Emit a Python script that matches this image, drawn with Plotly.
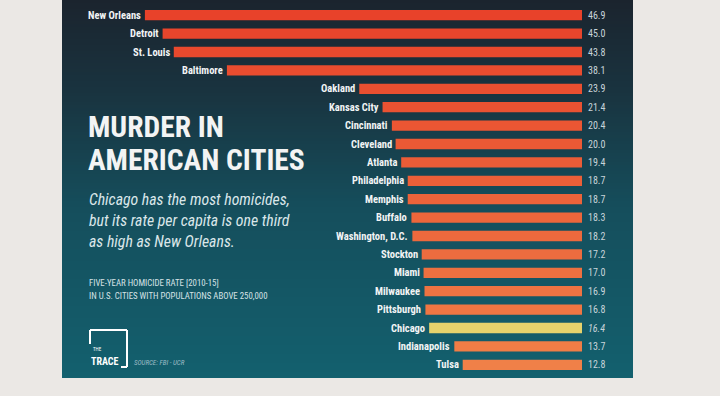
import plotly.graph_objects as go

cities = ["New Orleans", "Detroit", "St. Louis", "Baltimore", "Oakland", "Kansas City",
          "Cincinnati", "Cleveland", "Atlanta", "Philadelphia", "Memphis", "Buffalo",
          "Washington, D.C.", "Stockton", "Miami", "Milwaukee", "Pittsburgh", "Chicago",
          "Indianapolis", "Tulsa"]
rates = [46.9, 45.0, 43.8, 38.1, 23.9, 21.4, 20.4, 20.0, 19.4, 18.7, 18.7, 18.3,
         18.2, 17.2, 17.0, 16.9, 16.8, 16.4, 13.7, 12.8]
value_labels = ["46.9", "45.0", "43.8", "38.1", "23.9", "21.4", "20.4", "20.0", "19.4",
                "18.7", "18.7", "18.3", "18.2", "17.2", "17.0", "16.9", "16.8", "16.4",
                "13.7", "12.8"]
highlight = "Chicago"
subtitle_lines = ["Chicago has the most homicides,", "but its rate per capita is one third",
                  "as high as New Orleans."]
note_lines = ["FIVE-YEAR HOMICIDE RATE [2010-15]", "IN U.S. CITIES WITH POPULATIONS ABOVE 250,000"]

W, H = 720, 396
L, R, T, B = 116, 138, 6, 22
PW, PH = W - L - R, H - T - B


def px(x):
    return (x - L) / PW


def py(y):
    return 1 - (y - T) / PH


def lerp(c1, c2, t):
    return "#%02x%02x%02x" % tuple(int(round(a + (b - a) * t)) for a, b in zip(c1, c2))


n = len(cities)
top_col, bot_col = (232, 66, 42), (240, 128, 72)
colors = []
for i, c in enumerate(cities):
    if c == highlight:
        colors.append("#e6d26c")
    else:
        colors.append(lerp(top_col, bot_col, i / (n - 1)))

CF = "Noto Sans Condensed, Roboto Condensed, Roboto, sans-serif"

fig = go.Figure()
fig.add_trace(go.Bar(
    x=rates, y=cities, orientation="h", marker=dict(color=colors, line=dict(width=0)),
    width=0.56, hoverinfo="x+y", showlegend=False,
))

shapes = []
stops = [(0, (27, 36, 46)), (0.25, (25, 52, 64)), (0.55, (21, 78, 92)), (1.0, (19, 96, 110))]
panel_top, panel_bot = 0, 378
NS = 126
for k in range(NS):
    y0 = panel_top + (panel_bot - panel_top) * k / NS
    y1 = panel_top + (panel_bot - panel_top) * (k + 1) / NS
    t = (k + 0.5) / NS
    for j in range(len(stops) - 1):
        if stops[j][0] <= t <= stops[j + 1][0]:
            tt = (t - stops[j][0]) / (stops[j + 1][0] - stops[j][0])
            col = lerp(stops[j][1], stops[j + 1][1], tt)
            break
    yb = min(y1 + 2, panel_bot) if k < NS - 1 else panel_bot
    shapes.append(dict(type="rect", xref="paper", yref="paper", x0=px(62), x1=px(633),
                       y0=py(yb), y1=py(y0), fillcolor=col, line=dict(width=0), layer="below"))

lw = dict(color="white", width=2)
shapes += [
    dict(type="line", xref="paper", yref="paper", x0=px(90), x1=px(127), y0=py(330), y1=py(330), line=lw),
    dict(type="line", xref="paper", yref="paper", x0=px(127), x1=px(127), y0=py(330), y1=py(367), line=lw),
    dict(type="line", xref="paper", yref="paper", x0=px(121), x1=px(127), y0=py(367), y1=py(367), line=lw),
    dict(type="line", xref="paper", yref="paper", x0=px(90), x1=px(90), y0=py(330), y1=py(344), line=lw),
]

ann = []
for c, v, lab in zip(cities, rates, value_labels):
    ann.append(dict(x=v, y=c, xref="x", yref="y", text="<b>%s</b>" % c, showarrow=False,
                    xanchor="right", xshift=-2, font=dict(family=CF, size=10.5, color="#f2f4f5")))
    ann.append(dict(x=0, y=c, xref="x", yref="y",
                    text=("<i>%s</i>" % lab) if c == highlight else lab, showarrow=False,
                    xanchor="left", xshift=4, font=dict(family=CF, size=10, color="#c8d4da")))

ann += [
    dict(x=px(86), y=py(127), xref="paper", yref="paper", text="<b>MURDER IN</b>", showarrow=False,
         xanchor="left", yanchor="middle", font=dict(family=CF, size=29.5, color="#f3f4f4")),
    dict(x=px(86), y=py(160), xref="paper", yref="paper", text="<b>AMERICAN CITIES</b>", showarrow=False,
         xanchor="left", yanchor="middle", font=dict(family=CF, size=29.5, color="#f3f4f4")),
]
for i, line in enumerate(subtitle_lines):
    ann.append(dict(x=px(87), y=py(199 + 21 * i), xref="paper", yref="paper", text="<i>%s</i>" % line,
                    showarrow=False, xanchor="left", yanchor="middle",
                    font=dict(family=CF, size=15.8, color="#dbe7ea")))
for i, line in enumerate(note_lines):
    ann.append(dict(x=px(87), y=py(283 + 13 * i), xref="paper", yref="paper", text=line,
                    showarrow=False, xanchor="left", yanchor="middle",
                    font=dict(family=CF, size=8.8, color="#d6e2e6")))
ann += [
    dict(x=px(91), y=py(349), xref="paper", yref="paper", text="THE", showarrow=False,
         xanchor="left", yanchor="middle", font=dict(family=CF, size=5, color="white")),
    dict(x=px(89), y=py(361), xref="paper", yref="paper", text="<b>TRACE</b>", showarrow=False,
         xanchor="left", yanchor="middle", font=dict(family=CF, size=10, color="white")),
    dict(x=px(132), y=py(363), xref="paper", yref="paper", text="<i>SOURCE: FBI - UCR</i>", showarrow=False,
         xanchor="left", yanchor="middle", font=dict(family=CF, size=7, color="#9dbdc6")),
]

fig.update_layout(
    width=W, height=H, margin=dict(l=L, r=R, t=T, b=B),
    paper_bgcolor="#ebe8e5", plot_bgcolor="rgba(0,0,0,0)",
    xaxis=dict(range=[50, 0], visible=False, fixedrange=True),
    yaxis=dict(range=[n - 0.5, -0.5], visible=False, fixedrange=True, categoryorder="array",
               categoryarray=cities),
    shapes=shapes, annotations=ann, bargap=0.44,
)
fig.write_html("out.html", config={"displayModeBar": False},
               post_script="document.body.style.margin='0';document.body.style.background='#ebe8e5';")
